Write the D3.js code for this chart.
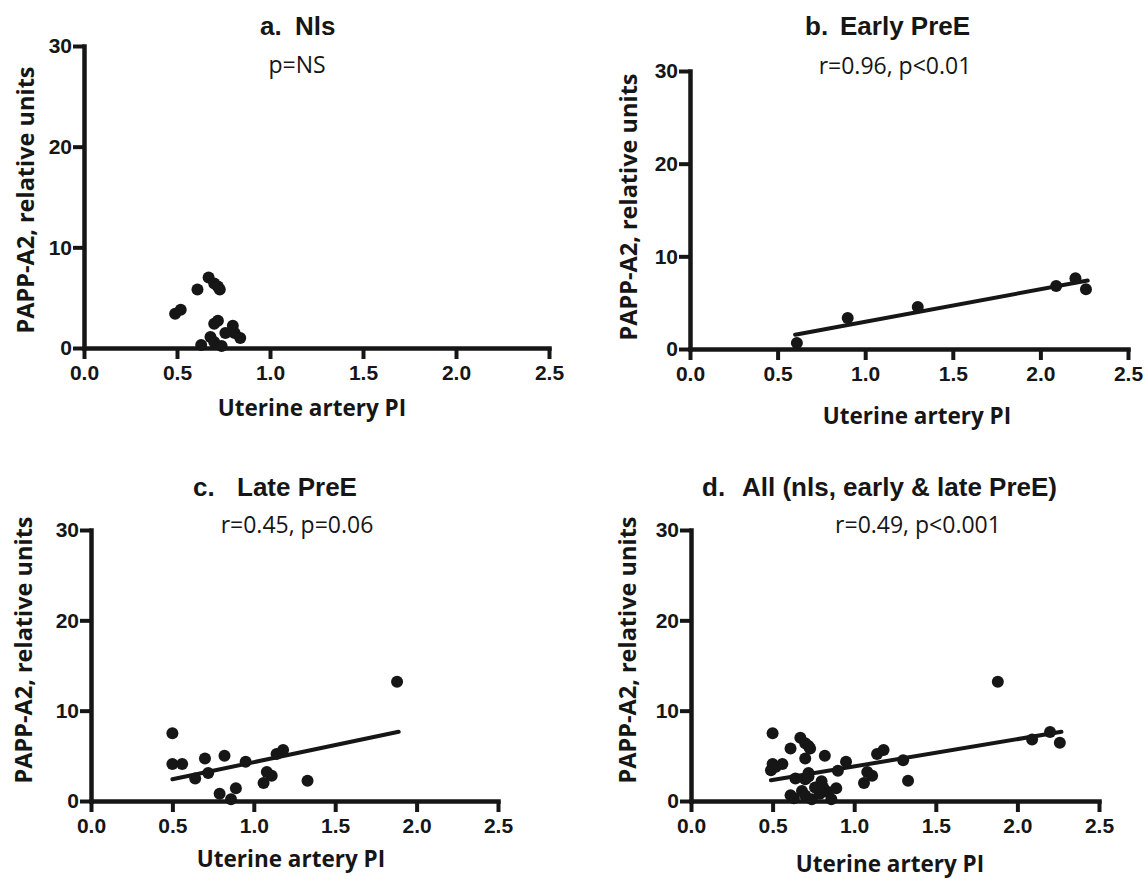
<!DOCTYPE html>
<html>
<head>
<meta charset="utf-8">
<script src="https://cdn.jsdelivr.net/npm/d3@7"></script>
<style>
  body { margin: 0; background: #fff; }
  svg { display: block; }
</style>
</head>
<body>
<svg id="chart" width="1146" height="879"></svg>
<script>
// PAPP-A2 vs uterine artery PI
const nlsPI   = [0.49, 0.52, 0.61, 0.67, 0.70, 0.72, 0.73, 0.70, 0.72, 0.80, 0.76, 0.81, 0.84, 0.68, 0.63, 0.70, 0.74];
const nlsPAPP = [3.4, 3.8, 5.8, 7.0, 6.4, 6.1, 5.8, 2.4, 2.7, 2.2, 1.5, 1.5, 1.0, 1.1, 0.3, 0.6, 0.2];

const earlyPI   = [0.61, 0.90, 1.30, 2.09, 2.20, 2.26];
const earlyPAPP = [0.65, 3.34, 4.52, 6.81, 7.64, 6.46];

const latePI   = [0.50, 0.50, 0.56, 0.64, 0.70, 0.72, 0.79, 0.82, 0.86, 0.89, 0.95, 1.06, 1.08, 1.11, 1.14, 1.18, 1.33, 1.88];
const latePAPP = [7.5, 4.1, 4.1, 2.5, 4.7, 3.1, 0.8, 5.0, 0.2, 1.4, 4.35, 2.0, 3.2, 2.8, 5.2, 5.65, 2.25, 13.2];

const allPI   = nlsPI.concat(earlyPI, latePI);
const allPAPP = nlsPAPP.concat(earlyPAPP, latePAPP);

// regression lines (end points)
const earlyFitPI = [0.60, 2.27], earlyFitPAPP = [1.54, 7.39];
const lateFitPI  = [0.50, 1.89], lateFitPAPP  = [2.40, 7.67];
const allFitPI   = [0.49, 2.27], allFitPAPP   = [2.29, 7.66];

const letters   = ["a.", "b.", "c.", "d."];
const titles    = ["Nls", "Early PreE", "Late PreE", "All (nls, early & late PreE)"];
const subtitles = ["p=NS", "r=0.96, p<0.01", "r=0.45, p=0.06", "r=0.49, p<0.001"];
const xTicks = [0, 0.5, 1.0, 1.5, 2.0, 2.5];
const yTicks = [0, 10, 20, 30];
const xTitle = "Uterine artery PI";
const yTitle = "PAPP-A2, relative units";

// layout of the four panels
const panels = [
  {pi: nlsPI, papp: nlsPAPP, fitPI: null, fitPAPP: null,
   x0: 84, x1: 549, y0: 348, yTop: 46,
   letterX: 260, titleX: 295, titleY: 35, subX: 297, subY: 73,
   xlabX: 312, xlabY: 416, ylabX: 25, ylabY: 200},
  {pi: earlyPI, papp: earlyPAPP, fitPI: earlyFitPI, fitPAPP: earlyFitPAPP,
   x0: 690, x1: 1128, y0: 349, yTop: 71,
   letterX: 805, titleX: 840, titleY: 35, subX: 895, subY: 74,
   xlabX: 917, xlabY: 424, ylabX: 628, ylabY: 207},
  {pi: latePI, papp: latePAPP, fitPI: lateFitPI, fitPAPP: lateFitPAPP,
   x0: 91, x1: 498, y0: 801, yTop: 530,
   letterX: 193, titleX: 237, titleY: 496, subX: 297, subY: 533,
   xlabX: 291, xlabY: 867, ylabX: 23, ylabY: 650},
  {pi: allPI, papp: allPAPP, fitPI: allFitPI, fitPAPP: allFitPAPP,
   x0: 691, x1: 1099, y0: 801, yTop: 530,
   letterX: 702, titleX: 742, titleY: 496, subX: 918, subY: 533,
   xlabX: 890, xlabY: 872, ylabX: 627, ylabY: 650}
];

const ink = "#161616";
const svg = d3.select("#chart");

panels.forEach((p, i) => {
  const g = svg.append("g");

  const x = d3.scaleLinear().domain([0, 2.5]).range([p.x0, p.x1]);
  const y = d3.scaleLinear().domain([0, 30]).range([p.y0, p.yTop]);

  // axes
  const xAxis = g.append("g")
    .attr("transform", "translate(0," + p.y0 + ")")
    .call(d3.axisBottom(x).tickValues(xTicks).tickFormat(d3.format(".1f"))
      .tickSize(11).tickSizeOuter(0).tickPadding(6));

  const yAxis = g.append("g")
    .attr("transform", "translate(" + p.x0 + ",0)")
    .call(d3.axisLeft(y).tickValues(yTicks).tickSize(11).tickSizeOuter(0).tickPadding(1));

  [xAxis, yAxis].forEach(ax => {
    ax.select(".domain").attr("stroke", ink).attr("stroke-width", 4.5).attr("stroke-linecap", "square");
    ax.selectAll(".tick line").attr("stroke", ink).attr("stroke-width", 4);
    ax.selectAll(".tick text")
      .attr("fill", ink)
      .style("font-family", "'Liberation Sans', Arial, sans-serif")
      .style("font-weight", "bold")
      .style("font-size", "21px");
  });

  // regression line
  if (p.fitPI) {
    const line = d3.line().x(d => x(d[0])).y(d => y(d[1]));
    g.append("path")
      .attr("d", line(d3.zip(p.fitPI, p.fitPAPP)))
      .attr("fill", "none")
      .attr("stroke", ink)
      .attr("stroke-width", 4)
      .attr("stroke-linecap", "round");
  }

  // points
  g.selectAll("circle")
    .data(d3.zip(p.pi, p.papp))
    .enter()
    .append("circle")
    .attr("cx", d => x(d[0]))
    .attr("cy", d => y(d[1]))
    .attr("r", 6)
    .attr("fill", ink);

  // titles
  g.append("text")
    .attr("x", p.letterX).attr("y", p.titleY)
    .attr("fill", ink)
    .style("font-family", "'Liberation Sans', Arial, sans-serif")
    .style("font-weight", "bold").style("font-size", "26px")
    .text(letters[i]);

  g.append("text")
    .attr("x", p.titleX).attr("y", p.titleY)
    .attr("fill", ink)
    .style("font-family", "'Liberation Sans', Arial, sans-serif")
    .style("font-weight", "bold").style("font-size", "26px")
    .text(titles[i]);

  g.append("text")
    .attr("x", p.subX).attr("y", p.subY)
    .attr("text-anchor", "middle")
    .attr("fill", ink)
    .style("font-family", "'Open Sans', sans-serif")
    .style("font-size", "23px")
    .text(subtitles[i]);

  // axis titles
  g.append("text")
    .attr("x", p.xlabX).attr("y", p.xlabY)
    .attr("text-anchor", "middle")
    .attr("fill", ink)
    .style("font-family", "'Open Sans', sans-serif")
    .style("font-weight", "bold").style("font-size", "22.5px")
    .text(xTitle);

  g.append("text")
    .attr("transform", "translate(" + p.ylabX + "," + p.ylabY + ") rotate(-90)")
    .attr("text-anchor", "middle")
    .attr("dominant-baseline", "central")
    .attr("fill", ink)
    .style("font-family", "'Open Sans', sans-serif")
    .style("font-weight", "bold").style("font-size", "23.5px")
    .text(yTitle);
});
</script>
</body>
</html>
